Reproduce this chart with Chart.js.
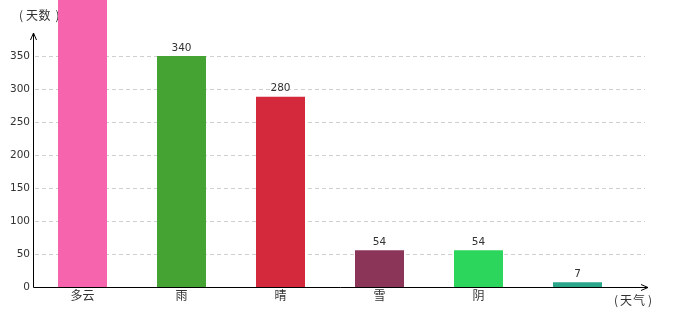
<!DOCTYPE html>
<html>
<head>
<meta charset="utf-8">
<script src="https://cdn.jsdelivr.net/npm/chart.js@4"></script>
<style>
  html, body { margin: 0; padding: 0; background: #fff; }
  #wrap { width: 680px; height: 320px; }
</style>
</head>
<body>
<div id="wrap"><canvas id="weatherChart"></canvas></div>
<script>
// data
const weather = ['多云', '雨', '晴', '雪', '阴', ''];
const days = [460, 340, 280, 54, 54, 7]; // 多云 runs off the top, value is a guess
const tickLabels = ['0', '50', '100', '150', '200', '250', '300', '350'];
const barColors = ['#f664ae', '#45a334', '#d4293d', '#8b3558', '#2cd55c', '#2aa68a'];

// in the original the "350" line sits level with the 340 bar
const tickStep = 340 / 7;

const numFont = { family: "'DejaVu Sans', sans-serif", size: 10.5 };
const cjkFont = "12px 'Noto Sans CJK SC', sans-serif";

// spaced-out title like "（天数）", one glyph at a time so the brackets keep their width
function drawTitle(ctx, chars, xs, y) {
    ctx.font = cjkFont;
    ctx.fillStyle = '#333';
    ctx.textAlign = 'center';
    ctx.textBaseline = 'middle';
    chars.forEach((c, i) => ctx.fillText(c, xs[i], y));
}

const axesPlugin = {
    id: 'axesPlugin',
    beforeDatasetsDraw(chart) {
        const ctx = chart.ctx;
        const y = chart.scales.y;
        ctx.save();
        // dashed grid
        ctx.strokeStyle = '#cfcfcf';
        ctx.lineWidth = 1;
        ctx.setLineDash([4, 3]);
        y.ticks.forEach((t, i) => {
            if (i === 0) return;
            const py = Math.round(y.getPixelForValue(t.value)) + 0.5;
            ctx.beginPath();
            ctx.moveTo(35, py);
            ctx.lineTo(645, py);
            ctx.stroke();
        });
        ctx.setLineDash([]);
        drawTitle(ctx, ['(', '天', '数', ')'], [21, 32, 44.5, 57.5], 15);
        ctx.restore();
    },
    afterDatasetsDraw(chart) {
        const ctx = chart.ctx;
        const area = chart.chartArea;
        const x0 = area.left + 0.5;
        const y0 = area.bottom + 0.5;
        ctx.save();
        ctx.strokeStyle = '#000';
        ctx.lineWidth = 1;
        // y axis with arrow
        ctx.beginPath();
        ctx.moveTo(x0, y0);
        ctx.lineTo(x0, area.top);
        ctx.moveTo(x0 - 3, area.top + 7);
        ctx.lineTo(x0, area.top);
        ctx.lineTo(x0 + 3, area.top + 7);
        ctx.stroke();
        // x axis with arrow
        ctx.beginPath();
        ctx.moveTo(x0, y0);
        ctx.lineTo(648, y0);
        ctx.moveTo(641, y0 - 3);
        ctx.lineTo(648, y0);
        ctx.lineTo(641, y0 + 3);
        ctx.stroke();

        // value labels
        ctx.fillStyle = '#333';
        ctx.font = numFont.size + 'px ' + numFont.family;
        ctx.textAlign = 'center';
        ctx.textBaseline = 'bottom';
        chart.getDatasetMeta(0).data.forEach((bar, i) => {
            ctx.fillText(String(days[i]), bar.x, bar.y - 3);
        });

        drawTitle(ctx, ['(', '天', '气', ')'], [616, 626, 639, 650], 300);
        ctx.restore();
    }
};

new Chart(document.getElementById('weatherChart'), {
    type: 'bar',
    data: {
        labels: weather,
        datasets: [{
            data: days,
            backgroundColor: barColors,
            borderWidth: 0,
            categoryPercentage: 1,
            barPercentage: 0.495,
            clip: false
        }]
    },
    options: {
        responsive: true,
        maintainAspectRatio: false,
        animation: false,
        layout: { padding: { top: 33, right: 53, left: 0, bottom: 0 } },
        plugins: {
            legend: { display: false },
            tooltip: { enabled: false }
        },
        scales: {
            x: {
                grid: { display: false, drawTicks: false },
                border: { display: false },
                ticks: {
                    color: '#333',
                    font: { family: "'Noto Sans CJK SC', sans-serif", size: 12 },
                    padding: 1,
                    maxRotation: 0
                },
                afterFit(scale) { scale.height = 33; }
            },
            y: {
                min: 0,
                max: 374,
                grid: { display: false, drawTicks: false },
                border: { display: false },
                afterBuildTicks(scale) {
                    scale.ticks = tickLabels.map((_, i) => ({ value: i * tickStep }));
                },
                ticks: {
                    color: '#333',
                    font: numFont,
                    padding: 3,
                    callback: (v, i) => tickLabels[i]
                },
                afterFit(scale) { scale.width = 33; }
            }
        }
    },
    plugins: [axesPlugin]
});
</script>
</body>
</html>
